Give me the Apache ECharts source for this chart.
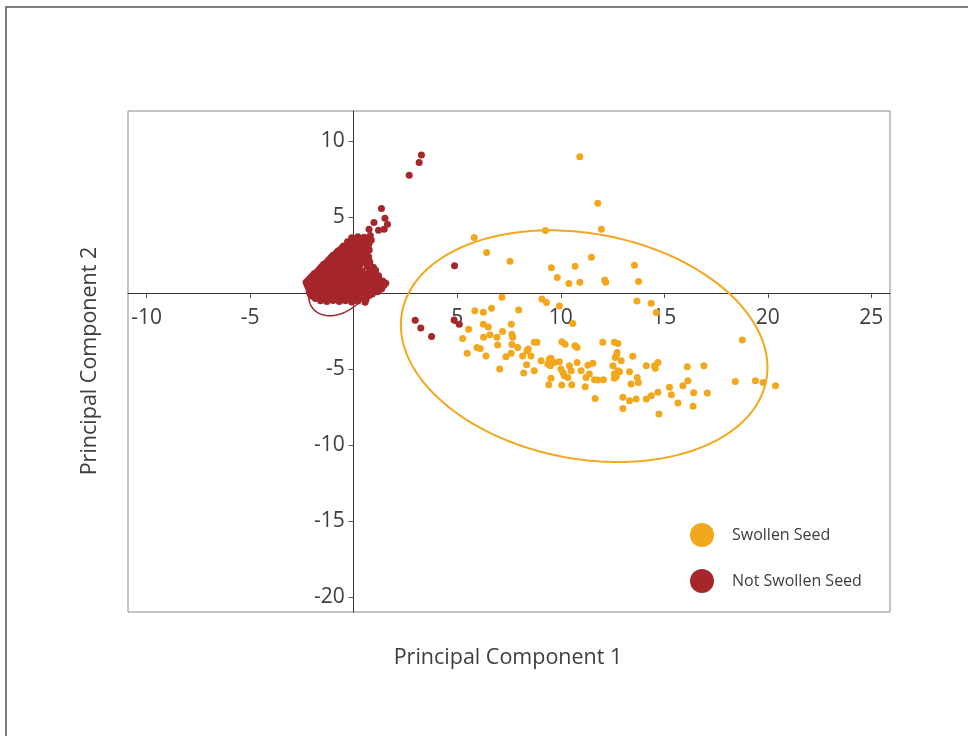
<!DOCTYPE html>
<html>
<head>
<meta charset="utf-8">
<script src="https://cdn.jsdelivr.net/npm/echarts@6/dist/echarts.min.js"></script>
<style>
html,body{margin:0;padding:0;background:#fff;}
#chart{width:968px;height:736px;}
</style>
</head>
<body>
<div id="chart"></div>
<script>
// ---- Data ----
const xTicks = [-10, -5, 5, 10, 15, 20, 25];
const yTicks = [10, 5, -5, -10, -15, -20];
const xRange = [-10.9, 25.9];
const yRange = [-21, 12];

const swollenSeed = [
[10.92,8.99],[11.79,5.92],[11.96,4.21],[9.26,4.13],[5.82,3.66],[6.42,2.68],[7.55,2.11],[9.55,1.68],[10.69,1.78],[11.48,2.36],[9.83,1.03],[10.39,0.63],[10.92,0.72],[12.12,0.87],[12.17,0.72],[13.56,1.84],[13.76,0.77],
[7.16,-0.26],[9.09,-0.39],[9.31,-0.61],[9.93,-0.84],[13.68,-0.51],[14.37,-0.66],[14.61,-1.27],[5.85,-1.16],[6.26,-1.25],[6.66,-0.99],[7.97,-1.10],[10.58,-1.99],[18.77,-3.09],
[5.55,-2.37],[6.26,-2.04],[6.50,-2.22],[7.61,-2.04],[5.26,-2.98],[6.27,-2.91],[6.58,-2.74],[6.92,-2.91],[7.19,-2.52],[7.64,-2.70],[7.68,-2.91],[5.95,-3.57],[6.11,-3.64],[6.95,-3.42],[7.64,-3.38],[7.92,-3.57],[5.48,-3.95],[6.39,-4.13],[7.35,-4.19],[7.60,-3.95],[8.16,-4.13],[8.37,-3.80],[8.56,-4.13],[8.72,-3.24],[8.85,-3.24],[8.43,-3.68],[10.05,-3.20],[10.21,-3.36],[10.69,-3.47],[10.79,-3.57],
[8.35,-4.72],[9.05,-4.45],[9.37,-4.67],[9.53,-4.28],[9.69,-4.56],[9.93,-4.52],[10.10,-5.22],[10.17,-5.44],[10.42,-4.78],[10.50,-5.11],[10.79,-4.56],[8.21,-5.26],[8.72,-5.11],[7.05,-5.0],[9.42,-6.03],[10.05,-6.05],[10.53,-6.03],[10.98,-5.11],[11.31,-4.74],[11.55,-4.61],[11.22,-5.55],[11.18,-6.16],[11.63,-5.70],[11.79,-5.72],[12.06,-5.70],[11.66,-6.93],[11.38,-5.33],[9.45,-4.34],[9.50,-4.78],[10.01,-5.0],[10.34,-5.55],[9.53,-5.61],
[12.03,-3.24],[12.76,-3.31],[12.52,-4.78],[12.68,-4.13],[12.59,-5.33],[12.92,-4.45],[13.48,-4.16],[12.84,-5.18],[12.68,-5.48],[13.32,-5.18],[13.69,-5.55],[13.75,-5.88],[13.40,-5.99],[14.13,-4.78],[14.53,-4.78],[14.69,-4.56],[14.56,-4.95],[13.00,-6.86],[13.32,-7.09],[13.64,-6.97],[13.00,-7.59],[14.13,-6.97],[14.37,-6.76],[14.69,-6.53],[14.74,-7.96],[16.11,-4.85],[16.91,-4.78],[18.43,-5.81],[19.40,-5.77],[19.77,-5.88],[20.37,-6.10],[16.14,-5.77],[15.90,-6.10],[15.25,-6.20],[15.34,-6.69],[16.42,-6.56],[17.08,-6.58],[15.66,-7.24],[16.39,-7.45],[12.59,-3.24],[12.72,-3.90],[12.63,-4.23],[12.76,-5.11],[12.59,-5.61]
];

const notSwollenOutliers = [
[3.27,9.1],[3.16,8.6],[2.68,7.76],[1.34,5.57],[1.51,4.93],[1.63,4.54],[1.47,4.21],[0.98,4.65],[0.74,4.21],[1.2,4.15],
[4.87,1.80],[4.85,-1.76],[5.10,-2.04],[2.97,-1.78],[3.24,-2.30],[3.76,-2.85]
];

const notSwollenCluster = [
[-0.1,3.65],[0.2,3.72],[0.5,3.68],[0.8,3.8],
[0.05,3.55],[0.35,3.58],[0.65,3.6],
[-0.3,3.38],[0.0,3.45],[0.3,3.4],[0.6,3.35],[0.85,3.5],
[-0.15,3.25],[0.15,3.28],[0.45,3.22],[0.75,3.3],
[-0.5,3.1],[-0.2,3.15],[0.1,3.05],[0.4,3.12],[0.7,3.08],
[-0.6,2.95],[-0.3,2.98],[0.0,2.92],[0.3,2.95],[0.6,2.98],
[-0.75,2.8],[-0.45,2.85],[-0.15,2.78],[0.15,2.82],[0.45,2.75],[0.75,2.85],
[-0.85,2.65],[-0.55,2.68],[-0.25,2.62],[0.05,2.65],[0.35,2.7],[0.62,2.62],
[-1.0,2.5],[-0.7,2.55],[-0.4,2.48],[-0.1,2.52],[0.2,2.45],[0.5,2.55],[0.72,2.4],
[-1.1,2.35],[-0.8,2.38],[-0.5,2.32],[-0.2,2.36],[0.1,2.3],[0.4,2.38],[0.72,2.28],
[-1.2,2.2],[-0.9,2.25],[-0.6,2.15],[-0.3,2.22],[0.0,2.18],[0.3,2.25],[0.7,2.12],
[-1.3,2.05],[-1.0,2.08],[-0.7,2.02],[-0.4,2.06],[-0.1,2.0],[0.2,2.08],[0.55,2.02],[0.78,2.05],
[-1.45,1.9],[-1.15,1.95],[-0.85,1.88],[-0.55,1.92],[-0.25,1.85],[0.05,1.95],[0.3,1.88],[0.75,1.9],
[-1.55,1.75],[-1.25,1.78],[-0.95,1.72],[-0.65,1.76],[-0.35,1.7],[-0.05,1.78],[0.25,1.72],[0.65,1.75],[0.95,1.7],
[-1.65,1.6],[-1.35,1.65],[-1.05,1.58],[-0.75,1.62],[-0.45,1.55],[-0.15,1.65],[0.15,1.58],[0.8,1.6],[1.05,1.52],
[-1.75,1.45],[-1.45,1.48],[-1.15,1.42],[-0.85,1.46],[-0.55,1.4],[-0.25,1.48],[0.05,1.42],[0.4,1.46],[0.75,1.45],[1.05,1.4],
[-1.9,1.3],[-1.6,1.35],[-1.3,1.28],[-1.0,1.32],[-0.7,1.25],[-0.4,1.35],[-0.1,1.28],[0.2,1.32],[0.6,1.25],[0.9,1.35],[1.2,1.15],
[-2.0,1.15],[-1.7,1.18],[-1.4,1.12],[-1.1,1.16],[-0.8,1.1],[-0.5,1.18],[-0.2,1.12],[0.1,1.16],[0.45,1.1],[0.75,1.18],[1.05,1.12],
[-2.1,1.0],[-1.8,1.05],[-1.5,0.98],[-1.2,1.02],[-0.9,0.95],[-0.6,1.05],[-0.3,0.98],[0.0,1.02],[0.3,0.95],[0.6,1.05],[0.9,0.92],[1.2,1.0],
[-2.2,0.85],[-1.9,0.88],[-1.6,0.82],[-1.3,0.86],[-1.0,0.8],[-0.7,0.88],[-0.4,0.82],[-0.1,0.86],[0.2,0.8],[0.5,0.88],[0.8,0.82],[1.1,0.86],[1.4,0.8],
[-2.3,0.72],[-2.0,0.68],[-1.7,0.75],[-1.4,0.65],[-1.1,0.72],[-0.8,0.68],[-0.5,0.75],[-0.2,0.65],[0.1,0.72],[0.4,0.68],[0.7,0.75],[1.0,0.65],[1.3,0.7],[1.55,0.66],
[-2.25,0.55],[-1.85,0.58],[-1.55,0.52],[-1.25,0.56],[-0.95,0.5],[-0.65,0.58],[-0.35,0.52],[-0.05,0.56],[0.25,0.5],[0.55,0.58],[0.85,0.52],[1.15,0.56],[1.45,0.5],
[-2.2,0.4],[-1.9,0.45],[-1.6,0.38],[-1.3,0.42],[-1.0,0.35],[-0.7,0.45],[-0.4,0.38],[-0.1,0.42],[0.2,0.35],[0.5,0.45],[0.8,0.38],[1.1,0.42],[1.35,0.3],
[-2.05,0.25],[-1.75,0.28],[-1.45,0.22],[-1.15,0.26],[-0.85,0.2],[-0.55,0.28],[-0.25,0.22],[0.05,0.26],[0.35,0.2],[0.65,0.28],[0.95,0.22],[1.25,0.25],
[-2.15,0.1],[-1.85,0.15],[-1.55,0.08],[-1.25,0.12],[-0.95,0.05],[-0.65,0.15],[-0.35,0.08],[-0.05,0.12],[0.25,0.05],[0.55,0.15],[0.85,0.08],[1.15,0.1],
[-2.1,-0.05],[-1.8,-0.02],[-1.5,-0.08],[-1.2,-0.04],[-0.9,-0.1],[-0.6,-0.02],[-0.3,-0.08],[0.0,-0.04],[0.3,-0.1],[0.6,-0.02],[0.9,-0.06],
[-2.0,-0.2],[-1.7,-0.15],[-1.4,-0.22],[-1.1,-0.18],[-0.8,-0.25],[-0.5,-0.15],[-0.2,-0.22],[0.1,-0.18],[0.4,-0.25],[0.75,-0.15],
[-1.85,-0.35],[-1.55,-0.38],[-1.25,-0.32],[-0.95,-0.36],[-0.65,-0.4],[-0.35,-0.32],[-0.05,-0.38],[0.25,-0.36],[0.6,-0.4],
[-1.6,-0.5],[-1.3,-0.55],[-1.0,-0.48],[-0.7,-0.55],[-0.4,-0.5],[-0.1,-0.58],[0.2,-0.52],[0.55,-0.6]
];

// Confidence ellipses: center, semi-axes, rotation (degrees) in data units
const swollenEllipse = {center: [11.13, -3.49], a: 9.18, b: 7.23, angle: -25.5};
const notSwollenEllipse = {center: [-0.63, 0.55], a: 2.16, b: 1.37, angle: 64.5};

const ORANGE = '#F3A71C';
const RED = '#A5262B';
const TEXT = '#3d3d3d';
const FONT = 'Open Sans';

function ellipsePoints(e, n) {
  const pts = [];
  const th = e.angle * Math.PI / 180;
  for (let i = 0; i <= n; i++) {
    const t = 2 * Math.PI * i / n;
    const ex = e.a * Math.cos(t), ey = e.b * Math.sin(t);
    pts.push([e.center[0] + ex * Math.cos(th) - ey * Math.sin(th),
              e.center[1] + ex * Math.sin(th) + ey * Math.cos(th)]);
  }
  return pts;
}

const GRID = {left: 128, top: 111, width: 762, height: 501};
// place the axes through the origin
const xAxisOffset = -GRID.height * (0 - yRange[0]) / (yRange[1] - yRange[0]);
const yAxisOffset = -GRID.width * (0 - xRange[0]) / (xRange[1] - xRange[0]);

const chart = echarts.init(document.getElementById('chart'), null, {renderer: 'canvas'});
chart.setOption({
  backgroundColor: '#fff',
  animation: false,
  grid: Object.assign({show: true, borderColor: '#8a8a8a', borderWidth: 1, containLabel: false, outerBoundsMode: 'none'}, GRID),
  xAxis: {
    type: 'value', min: xRange[0], max: xRange[1], position: 'bottom', offset: xAxisOffset,
    axisLine: {onZero: false, lineStyle: {color: '#333', width: 1}},
    axisTick: {show: true, length: 5, customValues: xTicks, lineStyle: {color: '#555'}},
    axisLabel: {customValues: xTicks, fontSize: 21, color: TEXT, fontFamily: FONT, margin: 14},
    splitLine: {show: false}
  },
  yAxis: {
    type: 'value', min: yRange[0], max: yRange[1], position: 'left', offset: yAxisOffset,
    axisLine: {onZero: false, lineStyle: {color: '#333', width: 1}},
    axisTick: {show: true, length: 5, customValues: yTicks, lineStyle: {color: '#555'}},
    axisLabel: {customValues: yTicks, fontSize: 21, color: TEXT, fontFamily: FONT, margin: 9},
    splitLine: {show: false}
  },
  legend: {
    data: ['Swollen Seed', 'Not Swollen Seed'],
    orient: 'vertical', left: 685, top: 518,
    itemWidth: 50, itemHeight: 24, itemGap: 22, icon: 'circle',
    textStyle: {fontSize: 16, color: TEXT, fontFamily: FONT}
  },
  graphic: [
    {type: 'rect', silent: true, shape: {x: 6, y: 7, width: 1100, height: 900}, style: {fill: 'none', stroke: '#555', lineWidth: 1.5}},
    {type: 'text', silent: true, x: 508, y: 658, style: {text: 'Principal Component 1', font: '21.5px "Open Sans"', fill: TEXT, textAlign: 'center', textVerticalAlign: 'middle'}},
    {type: 'text', silent: true, x: 90, y: 361, rotation: Math.PI / 2, style: {text: 'Principal Component 2', font: '21.5px "Open Sans"', fill: TEXT, textAlign: 'center', textVerticalAlign: 'middle'}}
  ],
  series: [
    {name: 'Swollen ellipse', type: 'line', data: ellipsePoints(swollenEllipse, 240), showSymbol: false, silent: true, lineStyle: {color: ORANGE, width: 2}, z: 1},
    {name: 'Not swollen ellipse', type: 'line', data: ellipsePoints(notSwollenEllipse, 120), showSymbol: false, silent: true, lineStyle: {color: RED, width: 1.5}, z: 1},
    {name: 'Swollen Seed', type: 'scatter', data: swollenSeed, symbolSize: 7, itemStyle: {color: ORANGE, opacity: 1}, z: 3},
    {name: 'Not Swollen Seed', type: 'scatter', data: notSwollenOutliers.concat(notSwollenCluster), symbolSize: 7, itemStyle: {color: RED, opacity: 1}, z: 4}
  ]
});
</script>
</body>
</html>
